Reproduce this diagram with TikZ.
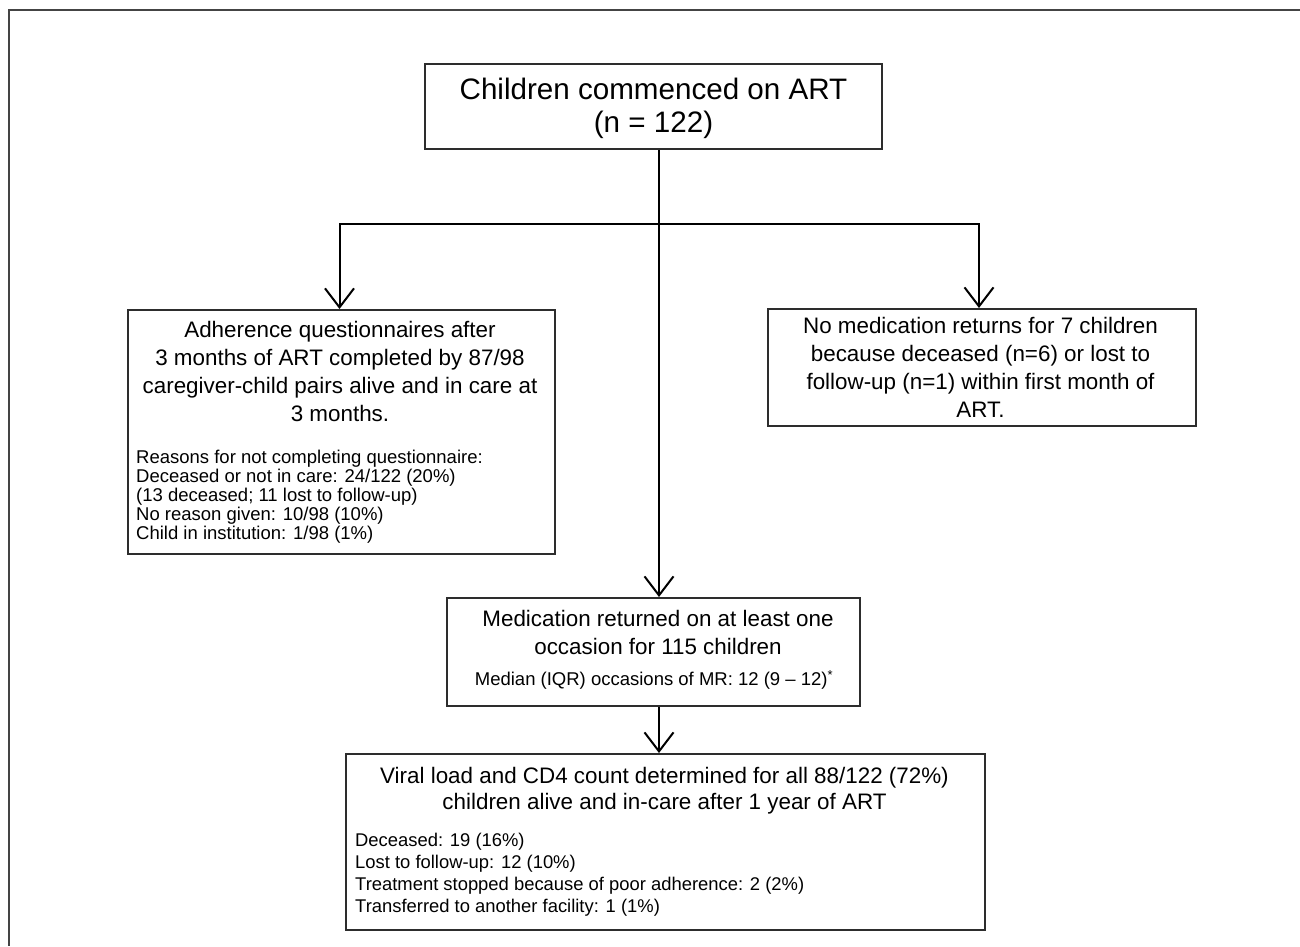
\documentclass[tikz,border=0pt]{standalone}
\usepackage{fontspec}
\setmainfont{Liberation Sans}
\usetikzlibrary{arrows.meta}
\begin{document}
\begin{tikzpicture}[x=1pt,y=-1pt,
  boxstyle/.style={draw={rgb,255:red,45;green,45;blue,45}, line width=1.8pt, anchor=north west, inner sep=0pt},
  txt/.style={inner sep=0pt, anchor=north},
  titlef/.style={txt, align=center, font=\fontsize{29.6pt}{33pt}\selectfont},
  bigf/.style={txt, align=center, font=\fontsize{22.4pt}{27.8pt}\selectfont},
  smallf/.style={txt, font=\fontsize{18.5pt}{19.2pt}\selectfont},
  conn/.style={line width=2pt, draw=black},
  arr/.style={conn, -{Straight Barb[length=19pt,width=29pt]}},
  frame/.style={line width=2pt, draw={rgb,255:red,68;green,68;blue,68}}]
\useasboundingbox (0,0) rectangle (1300,946);
\draw[frame] (1300,9.5) -- (8.7,9.5) -- (8.7,946);

% boxes
\node[boxstyle, minimum width=457pt, minimum height=85pt] (topbox) at (424,63) {};
\node[boxstyle, minimum width=427pt, minimum height=244pt] (adh) at (127,309) {};
\node[boxstyle, minimum width=428pt, minimum height=117pt] (nomed) at (767,308) {};
\node[boxstyle, minimum width=413pt, minimum height=108pt] (medret) at (446,597) {};
\node[boxstyle, minimum width=639pt, minimum height=176pt] (vl) at (345,753) {};

% texts
\node[titlef] (toptxt) at (653.5,78) {Children commenced on ART\\(n = 122)};

\node[bigf] (adhtxt) at (340,321.5) {Adherence questionnaires after\\ 3 months of ART completed by 87/98\\ caregiver-child pairs alive and in care at\\ 3 months.};
\node[smallf, anchor=north west, align=left] (adhsub) at (136,449.5) {Reasons for not completing questionnaire:\\ Deceased or not in care: 24/122 (20\%)\\ (13 deceased; 11 lost to follow-up)\\ No reason given: 10/98 (10\%)\\ Child in institution: 1/98 (1\%)};

\node[bigf] (nomedtxt) at (980.5,317.5) {No medication returns for 7 children\\ because deceased (n=6) or lost to\\ follow-up (n=1) within first month of\\ ART.};

\node[bigf, font=\fontsize{22.4pt}{27.6pt}\selectfont] (medtxt) at (658,610.3) {Medication returned on at least one\\ occasion for 115 children};
\node[smallf, align=center] (medsub) at (654,670.5) {Median (IQR) occasions of MR: 12 (9 -- 12)\textsuperscript{*}};

\node[bigf, font=\fontsize{22.4pt}{25.8pt}\selectfont] (vltxt) at (664.5,767.5) {Viral load and CD4 count determined for all 88/122 (72\%)\\ children alive and in-care after 1 year of ART};
\node[smallf, anchor=north west, align=left, font=\fontsize{18.4pt}{22pt}\selectfont] (vlsub) at (355,832.7) {Deceased: 19 (16\%)\\ Lost to follow-up: 12 (10\%)\\ Treatment stopped because of poor adherence: 2 (2\%)\\ Transferred to another facility: 1 (1\%)};

% connectors
\coordinate (split) at (659,223.5);
\coordinate (lc) at (339.5,223.5);
\coordinate (rc) at (979,223.5);
\draw[conn] (topbox.south -| split) -- (split);
\draw[arr] (split) -- (medret.north -| split);
\draw[arr] (split) -- (lc) -- (adh.north -| lc);
\draw[arr] (split) -- (rc) -- (nomed.north -| rc);
\draw[arr] (medret.south -| split) -- (vl.north -| split);
\end{tikzpicture}
\end{document}
